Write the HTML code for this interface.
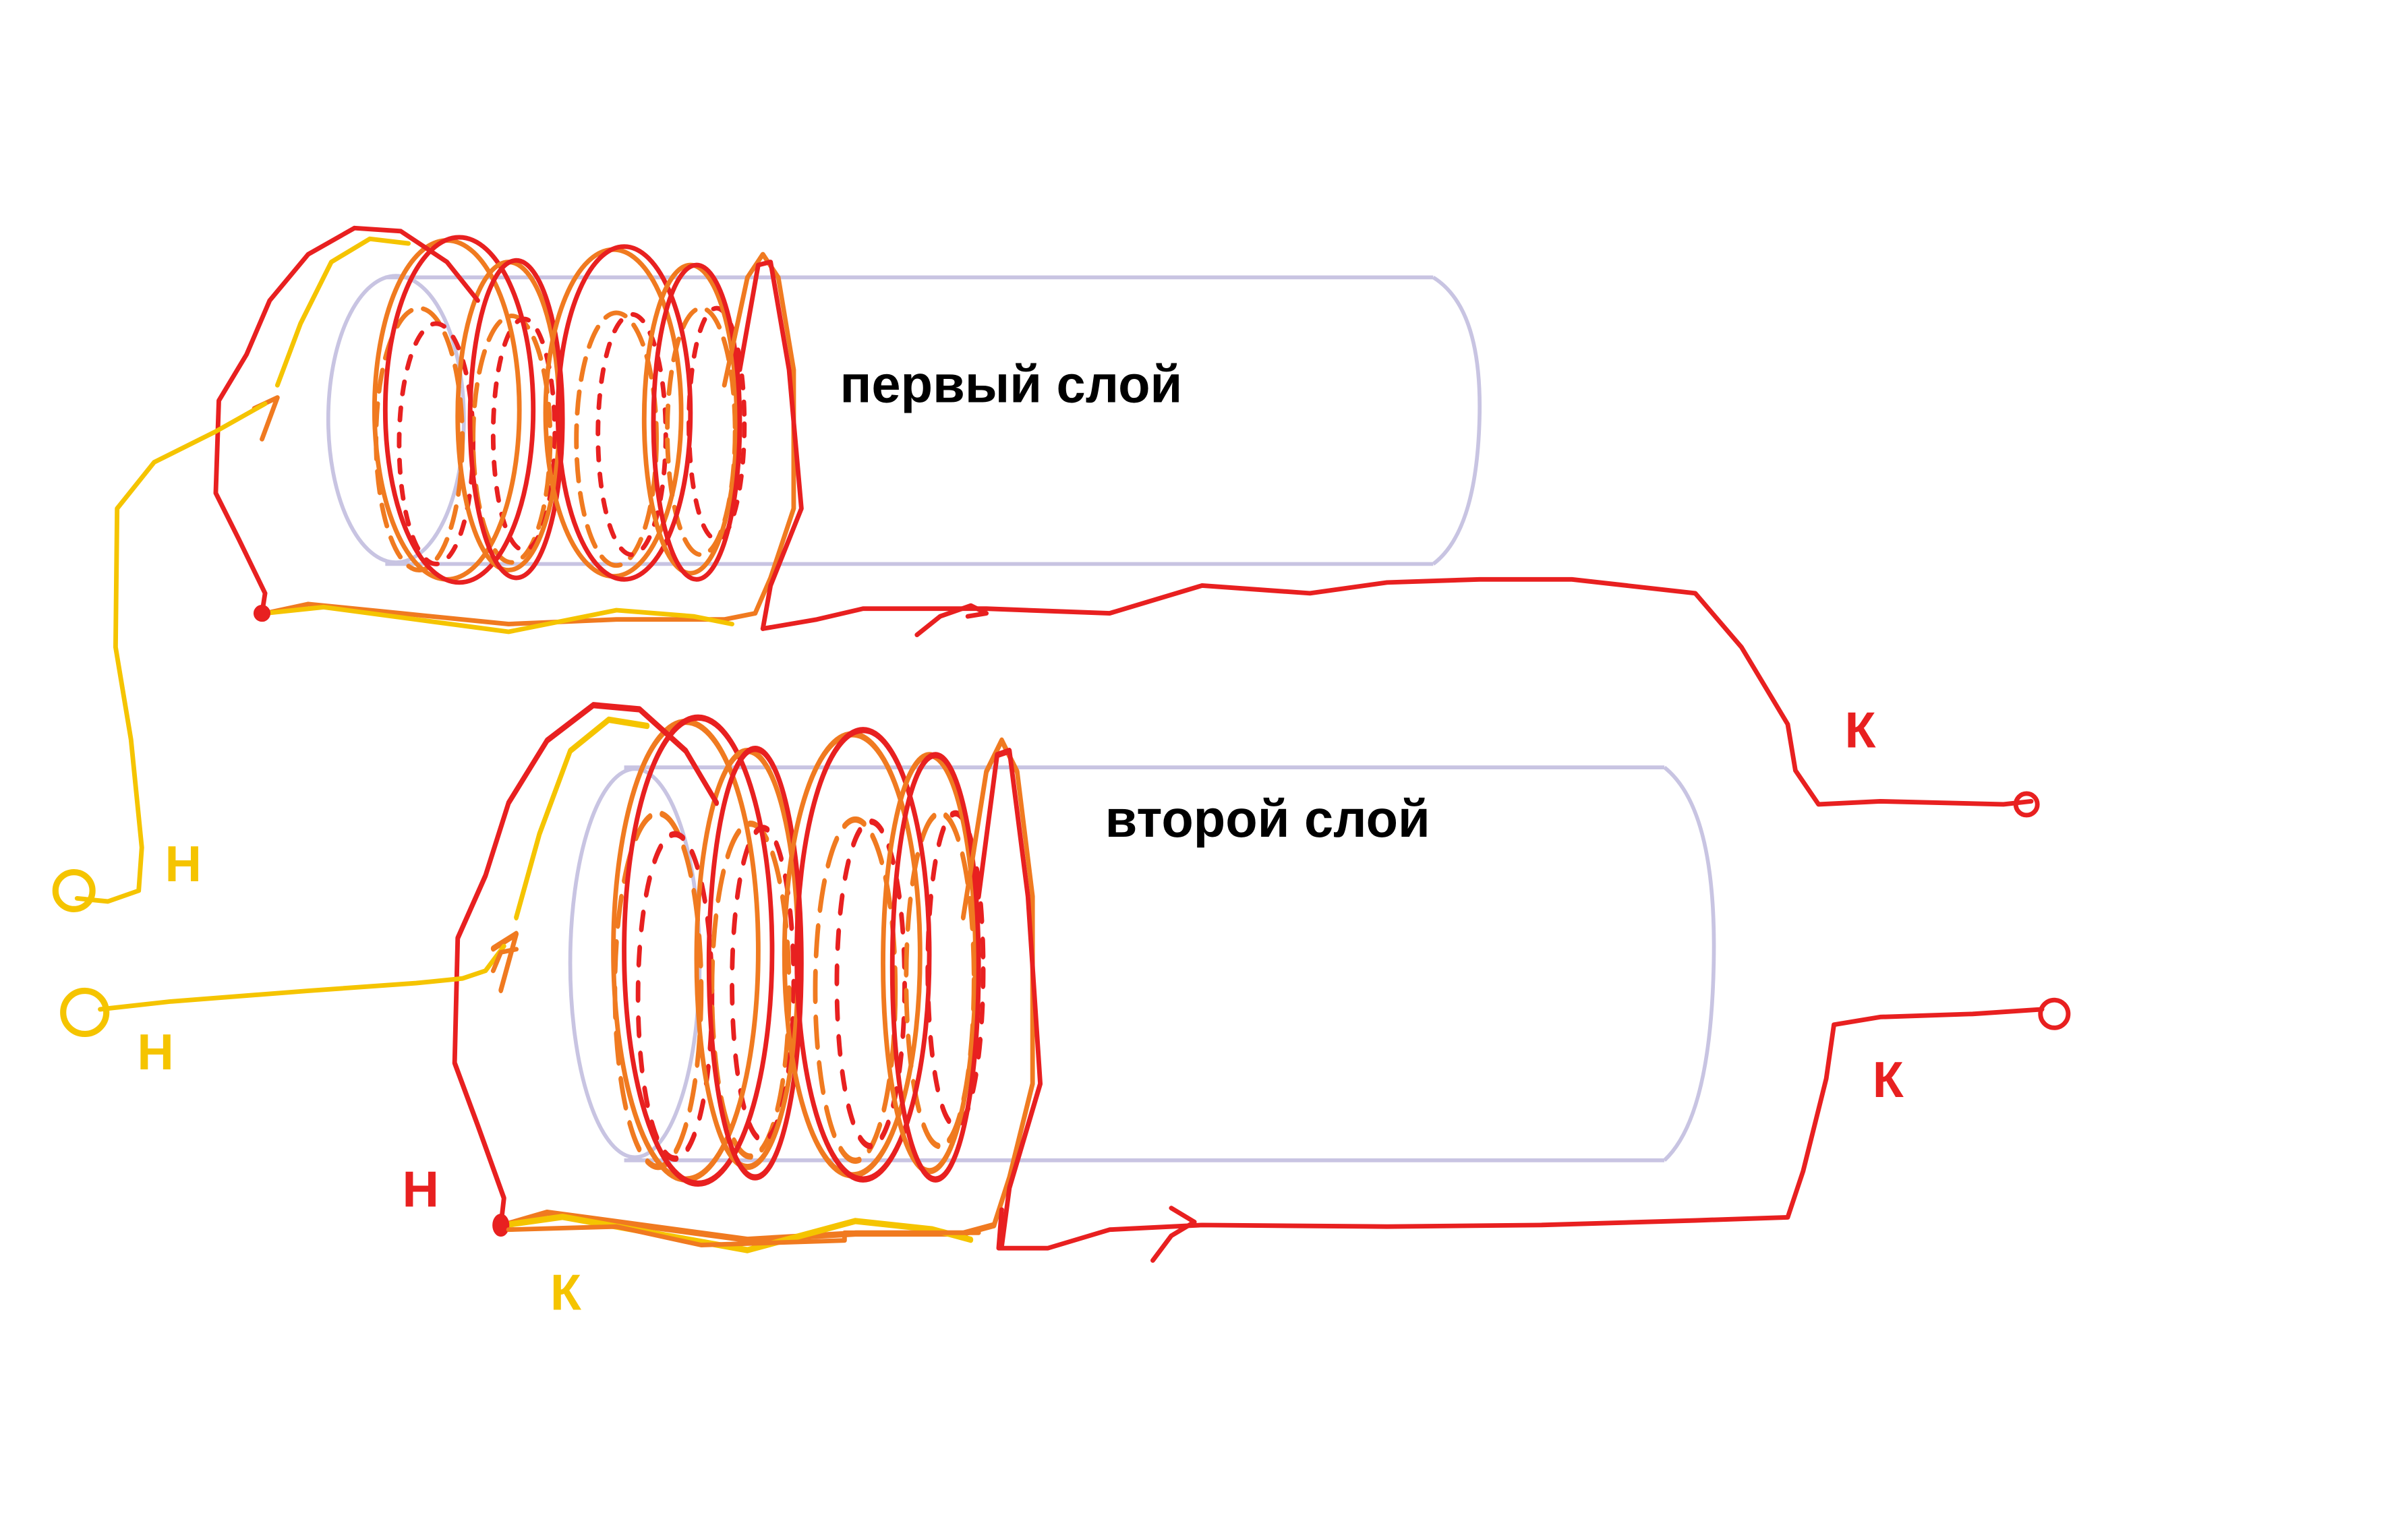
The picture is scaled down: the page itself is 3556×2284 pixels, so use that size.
<!DOCTYPE html>
<html><head><meta charset="utf-8"><style>
html,body{margin:0;padding:0;background:#fff;width:3556px;height:2284px;overflow:hidden}
svg{display:block}
text{font-family:"Liberation Sans","DejaVu Sans",sans-serif;font-weight:bold}
</style></head><body>
<svg width="3556" height="2284" viewBox="0 0 1556 999.4" preserveAspectRatio="none" xmlns="http://www.w3.org/2000/svg">
<defs>
<g id="coil" fill="none" stroke-linecap="round" stroke-linejoin="round" stroke-width="3">
  <ellipse cx="272" cy="285" rx="28" ry="85" stroke="#f07a20" stroke-dasharray="14 8"/>
  <ellipse cx="283" cy="288" rx="24" ry="78" stroke="#e82020" stroke-dasharray="8 9"/>
  <ellipse cx="332" cy="285" rx="25" ry="80" stroke="#f07a20" stroke-dasharray="14 8"/>
  <ellipse cx="340" cy="282" rx="20" ry="75" stroke="#e82020" stroke-dasharray="8 9"/>
  <ellipse cx="400" cy="285" rx="26" ry="82" stroke="#f07a20" stroke-dasharray="14 8"/>
  <ellipse cx="410" cy="282" rx="22" ry="78" stroke="#e82020" stroke-dasharray="8 9"/>
  <ellipse cx="455" cy="280" rx="22" ry="80" stroke="#f07a20" stroke-dasharray="14 8"/>
  <ellipse cx="465" cy="275" rx="18" ry="75" stroke="#e82020" stroke-dasharray="8 9"/>
  <ellipse cx="290" cy="266" rx="47" ry="110" stroke="#f07a20"/>
  <ellipse cx="298" cy="266" rx="48" ry="112" stroke="#e82020"/>
  <ellipse cx="330" cy="270" rx="33" ry="100" stroke="#f07a20"/>
  <ellipse cx="335" cy="272" rx="30" ry="103" stroke="#e82020"/>
  <ellipse cx="398" cy="268" rx="44" ry="106" stroke="#f07a20"/>
  <ellipse cx="405" cy="268" rx="43" ry="108" stroke="#e82020"/>
  <ellipse cx="448" cy="272" rx="30" ry="100" stroke="#f07a20"/>
  <ellipse cx="452" cy="274" rx="28" ry="102" stroke="#e82020"/>
  <path d="M470 250 L485 180 L495 165 L505 180 L515 240 L515 330 L500 375 L490 398" stroke="#f07a20"/>
  <path d="M480 240 L492 172 L500 170 L512 240 L520 330 L500 380 L495 408" stroke="#e82020"/>
  <path d="M170 398 L172 385 L155 350 L140 320 L142 260 L160 230 L175 195 L200 165 L230 148 L260 150 L290 170 L310 195" stroke="#e82020"/>
  <path d="M180 250 L195 210 L215 170 L240 155 L265 158" stroke="#f5c400"/>
  <path d="M165 265 L180 258 L170 285" stroke="#f07a20"/>
  <path d="M172 398 L200 392 L260 398 L330 405 L400 402 L470 402 L490 398" stroke="#f07a20"/>
  <path d="M172 398 L210 394 L270 402 L330 410 L400 396 L450 400 L475 405" stroke="#f5c400"/>
  <circle cx="170" cy="398" r="4" fill="#e82020" stroke="#e82020"/>
</g>
</defs>

<g fill="none" stroke="#c8c4e2" stroke-width="2.5">
  <ellipse cx="257" cy="272" rx="44" ry="93"/>
  <line x1="250" y1="180" x2="930" y2="180"/>
  <line x1="250" y1="366" x2="930" y2="366"/>
  <path d="M930 180 Q962 200 960 272 Q958 345 930 366"/>
  <ellipse cx="412" cy="625" rx="42" ry="126"/>
  <line x1="405" y1="498" x2="1080" y2="498"/>
  <line x1="405" y1="753" x2="1080" y2="753"/>
  <path d="M1080 498 Q1114 525 1112 625 Q1110 725 1080 753"/>
</g>

<use href="#coil"/>
<g transform="translate(155,625) scale(1,1.35) translate(0,-272)"><use href="#coil"/></g>

<g fill="none" stroke-width="3" stroke-linejoin="round" stroke-linecap="round">
  <path d="M495 408 L530 402 L560 395 L640 395 L720 398 L780 380 L850 385 L900 378 L960 376 L1020 376 L1100 385 L1130 420 L1160 470 L1165 500 L1180 522 L1220 520 L1300 522 L1318 520" stroke="#e82020"/>
  <path d="M595 412 L610 400 L630 393 L640 398 L628 400" stroke="#e82020"/>
  <circle cx="1315" cy="522" r="7" stroke="#e82020"/>
  <path d="M650 785 L648 810 L680 810 L720 798 L780 795 L900 796 L1000 795 L1100 792 L1160 790 L1170 760 L1185 700 L1190 665 L1220 660 L1280 658 L1325 655" stroke="#e82020"/>
  <path d="M748 818 L760 802 L775 793 L760 784" stroke="#e82020"/>
  <circle cx="1333" cy="658" r="9" stroke="#e82020"/>
  <path d="M172 262 L140 280 L100 300 L76 330 L75 420 L85 480 L92 550 L90 578 L70 585 L50 583" stroke="#f5c400"/>
  <circle cx="48" cy="578" r="12" stroke="#f5c400" stroke-width="4"/>
  <path d="M65 655 L110 650 L200 643 L270 638 L300 635 L315 630 L327 614" stroke="#f5c400"/>
  <circle cx="55" cy="657" r="14" stroke="#f5c400" stroke-width="4"/>
  <path d="M320 630 L325 618 L335 616" stroke="#f07a20"/>
  <path d="M330 798 L400 796 L455 808 L548 805 L548 800 L635 800" stroke="#f07a20"/>
</g>

<text x="545" y="261" font-size="34" fill="#000">первый слой</text>
<text x="717" y="543" font-size="34" fill="#000">второй слой</text>
<g font-size="33">
<text x="107" y="572" fill="#f5c400">Н</text>
<text x="89" y="694" fill="#f5c400">Н</text>
<text x="357" y="850" fill="#f5c400">К</text>
<text x="261" y="783" fill="#e82020">Н</text>
<text x="1197" y="485" fill="#e82020">К</text>
<text x="1215" y="712" fill="#e82020">К</text>
</g>
</svg>
</body></html>
